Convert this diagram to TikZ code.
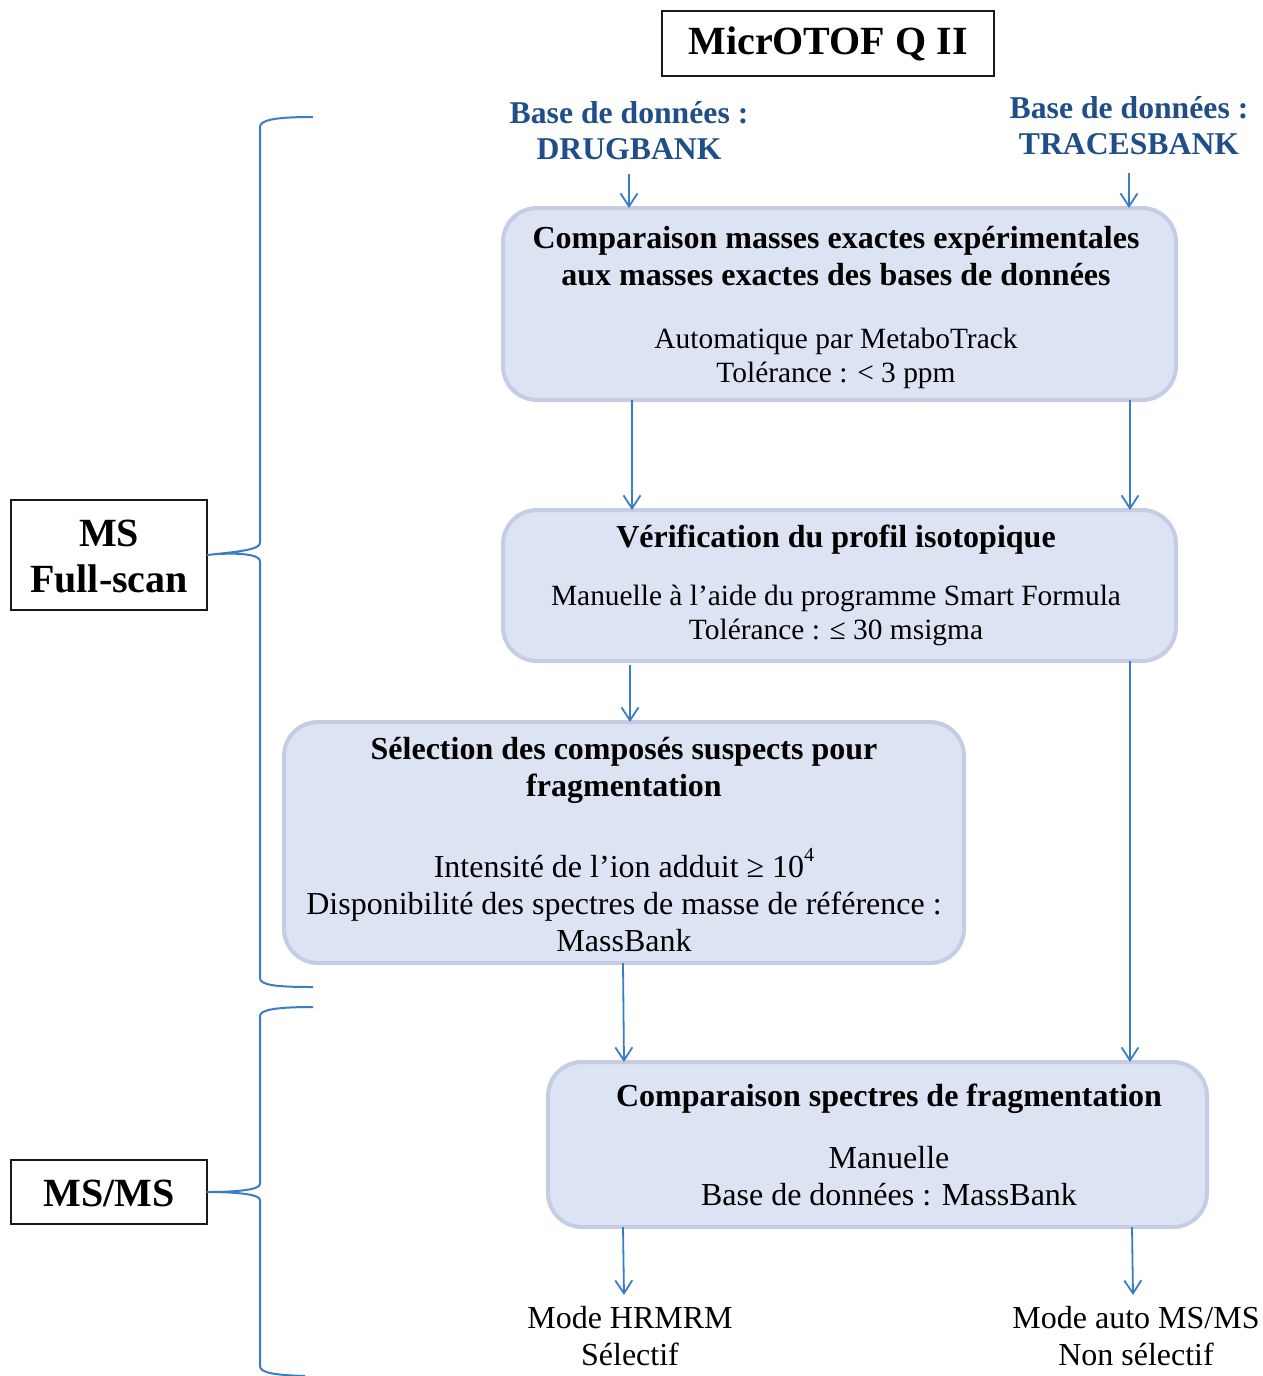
\documentclass[tikz,border=0pt]{standalone}
\usepackage{fontspec}
\setmainfont{Liberation Serif}
\usetikzlibrary{arrows.meta}
\definecolor{arrowblue}{HTML}{3B7DC4}
\definecolor{dbblue}{HTML}{1F4E89}
\definecolor{boxfill}{HTML}{DCE3F2}
\definecolor{boxdraw}{HTML}{C5CCE4}
\tikzset{
  stage/.style={draw=boxdraw, fill=boxfill, line width=4pt, rounded corners=34pt, inner sep=0pt, outer sep=0pt},
  labelbox/.style={draw=black!90, fill=white, line width=2.2pt, inner sep=0pt, outer sep=0pt},
  txt/.style={align=center, inner sep=0pt, font=\fontsize{29.4}{34}\selectfont},
  ltxt/.style={align=center, inner sep=0pt, font=\fontsize{32}{37}\selectfont},
  btxt/.style={align=center, inner sep=0pt, font=\fontsize{32}{37}\selectfont\bfseries},
  dbtxt/.style={align=center, inner sep=0pt, text=dbblue, font=\fontsize{31.7}{36}\selectfont\bfseries},
  bigtxt/.style={align=center, inner sep=0pt, font=\fontsize{40}{46}\selectfont\bfseries},
  arr/.style={draw=arrowblue, line width=1.8pt, -{Straight Barb[length=13pt,width=17pt,line width=1.8pt]}},
  bracestyle/.style={draw=arrowblue, line width=2pt}
}
\begin{document}
\begin{tikzpicture}[x=1pt,y=-1pt]
\useasboundingbox (0,0) rectangle (1263,1376);

% title
\node[labelbox, minimum width=332pt, minimum height=65pt] (micro) at (828,43.5) {};
\node[bigtxt] (microt) at (828,44) {MicrOTOF Q II};

% databases
\node[dbtxt] (drug) at (629,131) {Base de données :\\DRUGBANK};
\node[dbtxt] (traces) at (1129,126) {Base de données :\\TRACESBANK};

% stage boxes
\node[stage, minimum width=673pt, minimum height=192pt] (b1) at (839.5,304) {};
\node[btxt] (b1t) at (836,256) {Comparaison masses exactes expérimentales\\aux masses exactes des bases de données};
\node[txt] (b1b) at (836,358) {Automatique par MetaboTrack\\Tolérance : < 3 ppm};

\node[stage, minimum width=673pt, minimum height=151pt] (b2) at (839.5,585.5) {};
\node[btxt] (b2t) at (836,540) {Vérification du profil isotopique};
\node[txt] (b2b) at (836,615) {Manuelle à l’aide du programme Smart Formula\\Tolérance : ≤ 30 msigma};

\node[stage, minimum width=680pt, minimum height=241pt] (b3) at (624,842.5) {};
\node[btxt] (b3t) at (624,770) {Sélection des composés suspects pour\\fragmentation};
\node[ltxt] (b3b) at (624,900) {Intensité de l’ion adduit ≥ 10\raisebox{16pt}{\fontsize{20}{20}\selectfont 4}\\Disponibilité des spectres de masse de référence :\\MassBank};

\node[stage, minimum width=659pt, minimum height=165pt] (b4) at (877.5,1144.5) {};
\node[btxt] (b4t) at (889,1099) {Comparaison spectres de fragmentation};
\node[ltxt] (b4b) at (889,1176) {Manuelle\\Base de données : MassBank};

% outputs
\node[ltxt] (o1) at (630,1336) {Mode HRMRM\\Sélectif};
\node[ltxt] (o2) at (1136,1336) {Mode auto MS/MS\\Non sélectif};

% left labels
\node[labelbox, minimum width=196pt, minimum height=110pt] (fs) at (109,555) {};
\node[bigtxt] (fst) at (109,556) {MS\\Full-scan};
\node[labelbox, minimum width=196pt, minimum height=64pt] (msms) at (109,1192) {};
\node[bigtxt] (msmst) at (109,1193) {MS/MS};

% free arrow ends
\coordinate (o1tip) at (624,1295);
\coordinate (o2tip) at (1133,1295);

% arrows
\draw[arr] (drug.south -| 629,0) ++(0,14) -- (b1.north -| 629,0);
\draw[arr] (traces.south -| 1129,0) ++(0,18) -- (b1.north -| 1129,0);
\draw[arr] (b1.south -| 632,0) -- (b2.north -| 632,0);
\draw[arr] (b1.south -| 1130,0) -- (b2.north -| 1130,0);
\draw[arr] (b2.south -| 630,0) ++(0,4) -- (b3.north -| 630,0);
\draw[arr] (b3.south -| 623,0) -- (b4.north -| 624,0);
\draw[arr] (b2.south -| 1130,0) -- (b4.north -| 1130,0);
\draw[arr] (b4.south -| 623,0) -- (o1tip);
\draw[arr] (b4.south -| 1132,0) -- (o2tip);

% braces
\coordinate (br1top) at (313,117);
\coordinate (br1bot) at (313,987);
\coordinate (br2top) at (313,1007);
\coordinate (br2bot) at (305,1376);
\draw[bracestyle] (br1top) .. controls (275,117) and (260,120) .. (260,127)
  -- (260,543) .. controls (260,550) and (235,552) .. (fs.east)
  .. controls (235,552) and (260,554) .. (260,561)
  -- (260,978) .. controls (260,985) and (275,987) .. (br1bot);
\draw[bracestyle] (br2top) .. controls (275,1007) and (260,1010) .. (260,1016)
  -- (260,1184) .. controls (260,1190) and (235,1192) .. (msms.east)
  .. controls (235,1192) and (260,1194) .. (260,1200)
  -- (260,1366) .. controls (260,1373) and (275,1375) .. (br2bot);
\end{tikzpicture}
\end{document}
